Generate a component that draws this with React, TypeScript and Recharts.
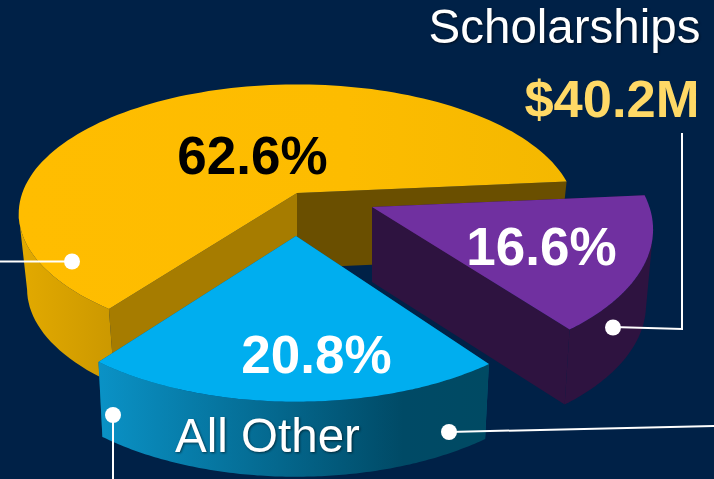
import { Pie, PieChart } from "recharts";

const sliceNames = ["Largest share", "Scholarships", "All Other"];
const sliceShares = [62.6, 16.6, 20.8];
const calloutName = "Scholarships";
const calloutAmount = "$40.2M";
const wallLabel = "All Other";

const BG = "#002147";

// how each slice is laid out in the fake 3D view
const sliceViews = [
  {
    dx: 0, dy: 0, stretch: 1.01, tilt: 0.463, k: 0.16, spread: 1.012, height: 75, shrink: 0.97, wallFrom: 19,
    top: "yellowTop", startWall: "#a67c00", endWall: "#6a4f00", outer: "yellowWall",
    labelX: 252.5, labelY: 174, labelFill: "#000000",
  },
  {
    dx: 75, dy: 14, stretch: 1.02, tilt: 0.504, k: 0.16, spread: 0.944, height: 75, shrink: 0.975, wallFrom: 26,
    top: "#7030a0", startWall: "#2e1340", endWall: "#2e1340", outer: "#2e1340",
    labelX: 541.5, labelY: 265, labelFill: "#ffffff",
  },
  {
    dx: -1, dy: 43, stretch: 1.04, tilt: 0.518, k: 0.15, spread: 1, height: 75, shrink: 0.98, wallFrom: 0,
    top: "#00aeef", startWall: "#00587a", endWall: "#00587a", outer: "blueWall",
    labelX: 316.5, labelY: 373, labelFill: "#ffffff",
  },
];

const tableData = sliceNames.map((name, i) => ({ name, value: sliceShares[i], order: i }));

function toPath(points: number[][]) {
  return points.map((p, i) => `${i ? "L" : "M"}${p[0].toFixed(1)},${p[1].toFixed(1)}`).join(" ") + " Z";
}

const paint = (c: string) => (c.startsWith("#") ? c : `url(#${c})`);

function Slice3D(props: any) {
  const { cx, cy, outerRadius, startAngle, endAngle } = props;
  const order = props.order ?? props.payload?.order ?? 0;
  const v = sliceViews[order];
  const mid = (startAngle + endAngle) / 2;
  const ax = cx + v.dx;
  const ay = cy + v.dy;

  const rim = (angle: number) => {
    const t = ((mid + (angle - mid) * v.spread) * Math.PI) / 180;
    const w = 1 + v.k * Math.sin(t);
    return [
      ax + (outerRadius * v.stretch * Math.cos(t)) / w,
      ay - (outerRadius * v.tilt * Math.sin(t)) / w,
    ];
  };
  // the floor of the slice sits straight under the top, a bit narrower
  const below = (p: number[]) => [ax + (p[0] - ax) * v.shrink, p[1] + v.height];

  const arc: number[][] = [];
  const steps = 120;
  for (let i = 0; i <= steps; i++) {
    arc.push(rim(startAngle + ((endAngle - startAngle) * i) / steps));
  }
  const apex = [ax, ay];
  const first = arc[0];
  const last = arc[arc.length - 1];
  // the back of the rim is hidden, no wall for it
  const front = arc.filter((p) => p[1] > ay + v.wallFrom);

  return (
    <g>
      <path d={toPath([apex, first, below(first), below(apex)])} fill={v.startWall} />
      <path d={toPath([apex, last, below(last), below(apex)])} fill={v.endWall} />
      <path d={toPath([...front, ...front.map(below).reverse()])} fill={paint(v.outer)} />
      <path d={toPath([apex, ...arc])} fill={paint(v.top)} />
    </g>
  );
}

function renderShare(props: any) {
  const v = sliceViews[props.order ?? props.payload?.order ?? 0];
  return (
    <text
      x={v.labelX}
      y={v.labelY}
      textAnchor="middle"
      fontFamily="Liberation Sans"
      fontWeight="bold"
      fontSize={53}
      fill={v.labelFill}
    >
      {props.value}%
    </text>
  );
}

const softShadow = { filter: "drop-shadow(1.5px 1.5px 1px rgba(0,0,0,0.55))" };

export default function App() {
  return (
    <div style={{ position: "absolute", left: 0, top: 0, width: 714, height: 479, background: BG, overflow: "hidden" }}>
      <PieChart width={714} height={479} margin={{ top: 0, right: 0, bottom: 0, left: 0 }}>
        <defs>
          <linearGradient id="yellowTop" x1="0" y1="0" x2="1" y2="0">
            <stop offset="0%" stopColor="#ffbd00" />
            <stop offset="60%" stopColor="#fdbc00" />
            <stop offset="100%" stopColor="#f4b800" />
          </linearGradient>
          <linearGradient id="yellowWall" x1="0" y1="0" x2="1" y2="0">
            <stop offset="0%" stopColor="#e3aa00" />
            <stop offset="100%" stopColor="#cb9800" />
          </linearGradient>
          <linearGradient id="blueWall" x1="0" y1="0" x2="1" y2="0">
            <stop offset="0%" stopColor="#0a92c6" />
            <stop offset="78%" stopColor="#004a66" />
            <stop offset="100%" stopColor="#004a63" />
          </linearGradient>
        </defs>
        <Pie
          data={tableData}
          dataKey="value"
          nameKey="name"
          cx={297}
          cy={193}
          outerRadius={272}
          startAngle={232}
          endAngle={-128}
          paddingAngle={0}
          shape={Slice3D}
          label={renderShare}
          labelLine={false}
          isAnimationActive={false}
        />
      </PieChart>
      {/* callouts go over the pie, recharts keeps its own layers on top of plain children */}
      <svg width={714} height={479} style={{ position: "absolute", left: 0, top: 0 }}>
        <text x={700.5} y={43} textAnchor="end" fontFamily="Liberation Sans" fontSize={47.5} fill="#ffffff" style={softShadow}>
          {calloutName}
        </text>
        <text x={699.5} y={117} textAnchor="end" fontFamily="Liberation Sans" fontWeight="bold" fontSize={52.5} fill="#ffd966">
          {calloutAmount}
        </text>
        <text x={267.5} y={452} textAnchor="middle" fontFamily="Liberation Sans" fontSize={47.5} fill="#ffffff" style={softShadow}>
          {wallLabel}
        </text>
        <g stroke="#ffffff" strokeWidth={2} fill="none">
          <path d="M0,261.5 L72,261.5" />
          <path d="M682,133 L682,329 L613,327" />
          <path d="M449,432 L714,426" />
          <path d="M113,415 L113,479" />
        </g>
        <g fill="#ffffff">
          <circle cx={72} cy={261.5} r={8} />
          <circle cx={613} cy={327.5} r={8} />
          <circle cx={449} cy={432} r={8} />
          <circle cx={113} cy={415} r={8} />
        </g>
      </svg>
    </div>
  );
}
